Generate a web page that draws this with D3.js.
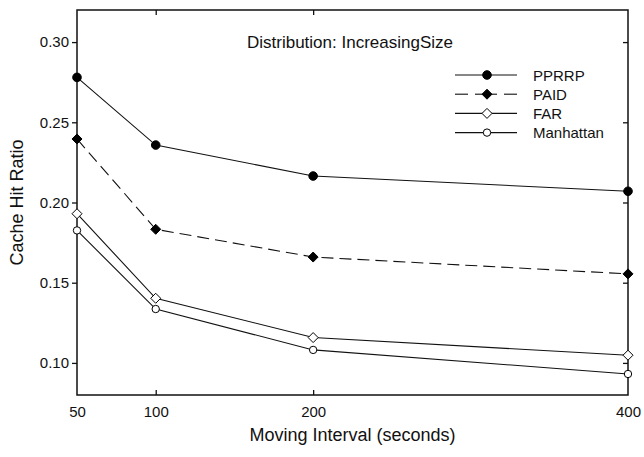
<!DOCTYPE html>
<html><head><meta charset="utf-8">
<script src="https://cdn.jsdelivr.net/npm/d3@7"></script>
<style>body{margin:0;background:#fff;} text{font-family:"Liberation Sans",Arial,sans-serif;fill:#111;}</style>
</head><body>
<svg id="chart" width="644" height="457"></svg>
<script>
const intervals = [50, 100, 200, 400];
const pprrp = [0.278, 0.2358, 0.2165, 0.207];
const paid = [0.2396, 0.1833, 0.166, 0.1555];
const far = [0.193, 0.1403, 0.1158, 0.1048];
const manhattan = [0.1826, 0.1336, 0.1081, 0.0931];
const seriesNames = ["PPRRP", "PAID", "FAR", "Manhattan"];
const yTicks = [0.10, 0.15, 0.20, 0.25, 0.30];
const xTicks = [50, 100, 200, 400];
const title = "Distribution: IncreasingSize";

const series = [
  {name: seriesNames[0], values: pprrp, shape: "circle", fill: "#000", r: 4.3, dash: null},
  {name: seriesNames[1], values: paid, shape: "diamond", fill: "#000", r: 5, dash: "12,6"},
  {name: seriesNames[2], values: far, shape: "diamond", fill: "#fff", r: 5, dash: null},
  {name: seriesNames[3], values: manhattan, shape: "circle", fill: "#fff", r: 3.7, dash: null}
];

const svg = d3.select("#chart");
const L = 77, R = 628, T = 10, B = 395;
const x = d3.scaleLinear().domain([50, 400]).range([L, R]);
const y = d3.scaleLinear().domain([0.08, 0.32]).range([B, T]);

// frame
svg.append("rect").attr("x", L).attr("y", T).attr("width", R - L).attr("height", B - T)
  .attr("fill", "none").attr("stroke", "#111").attr("stroke-width", 1.5);

// left axis (ticks outward)
const gl = svg.append("g").attr("transform", `translate(${L},0)`)
  .call(d3.axisLeft(y).tickValues(yTicks).tickFormat(d3.format(".2f")).tickSize(5).tickPadding(3));
// right axis ticks (inward)
const gr = svg.append("g").attr("transform", `translate(${R},0)`)
  .call(d3.axisRight(y).tickValues(yTicks).tickSize(-5).tickFormat(""));
// bottom axis (ticks inward)
const gb = svg.append("g").attr("transform", `translate(0,${B})`)
  .call(d3.axisBottom(x).tickValues(xTicks).tickSize(-5).tickPadding(11).tickFormat(d3.format("d")));
// top axis ticks (inward)
const gt = svg.append("g").attr("transform", `translate(0,${T})`)
  .call(d3.axisTop(x).tickValues(xTicks).tickSize(-5).tickFormat(""));
[gl, gr, gb, gt].forEach(g => {
  g.select(".domain").remove();
  g.selectAll("line").attr("stroke", "#111").attr("stroke-width", 1.3);
  g.selectAll("text").style("font-size", "15px").style("font-family", "Liberation Sans, Arial, sans-serif").attr("fill", "#111");
});
gb.selectAll(".tick line").filter(d => d === 50 || d === 400).remove();
gt.selectAll(".tick line").filter(d => d === 50 || d === 400).remove();

// axis titles
svg.append("text").attr("x", (L + R) / 2).attr("y", 441).attr("text-anchor", "middle")
  .style("font-size", "18px").text("Moving Interval (seconds)");
svg.append("text").attr("transform", `translate(23,${(T + B) / 2}) rotate(-90)`).attr("text-anchor", "middle")
  .style("font-size", "18px").text("Cache Hit Ratio");

// title
svg.append("text").attr("x", 350).attr("y", 48).attr("text-anchor", "middle")
  .style("font-size", "17px").text(title);

function drawMarker(g, s, cx, cy) {
  if (s.shape === "circle") {
    g.append("circle").attr("cx", cx).attr("cy", cy).attr("r", s.r)
      .attr("fill", s.fill).attr("stroke", "#000").attr("stroke-width", 1);
  } else {
    const r = s.r;
    g.append("path").attr("d", `M${cx},${cy - r}L${cx + r},${cy}L${cx},${cy + r}L${cx - r},${cy}Z`)
      .attr("fill", s.fill).attr("stroke", "#000").attr("stroke-width", 1);
  }
}

const line = d3.line().x((d, i) => x(intervals[i])).y(d => y(d));
series.forEach(s => {
  svg.append("path").datum(s.values).attr("d", line).attr("fill", "none")
    .attr("stroke", "#111").attr("stroke-width", 1.1)
    .attr("stroke-dasharray", s.dash);
  const g = svg.append("g");
  s.values.forEach((v, i) => drawMarker(g, s, x(intervals[i]), y(v)));
});

// legend
const lx0 = 455, lx1 = 517, lmx = 487, ltx = 533, ly0 = 75, ldy = 19.2;
series.forEach((s, i) => {
  const yy = ly0 + i * ldy;
  if (s.dash) {
    svg.append("line").attr("x1", lx0).attr("x2", lx0 + 13).attr("y1", yy).attr("y2", yy).attr("stroke", "#111").attr("stroke-width", 1.1);
    svg.append("line").attr("x1", lx0 + 20).attr("x2", lx1 - 20).attr("y1", yy).attr("y2", yy).attr("stroke", "#111").attr("stroke-width", 1.1);
    svg.append("line").attr("x1", lx1 - 13).attr("x2", lx1).attr("y1", yy).attr("y2", yy).attr("stroke", "#111").attr("stroke-width", 1.1);
  } else {
    svg.append("line").attr("x1", lx0).attr("x2", lx1).attr("y1", yy).attr("y2", yy).attr("stroke", "#111").attr("stroke-width", 1.1);
  }
  drawMarker(svg, s, lmx, yy);
  svg.append("text").attr("x", ltx).attr("y", yy + 5.5).style("font-size", "15px").text(s.name);
});
</script>
</body></html>
